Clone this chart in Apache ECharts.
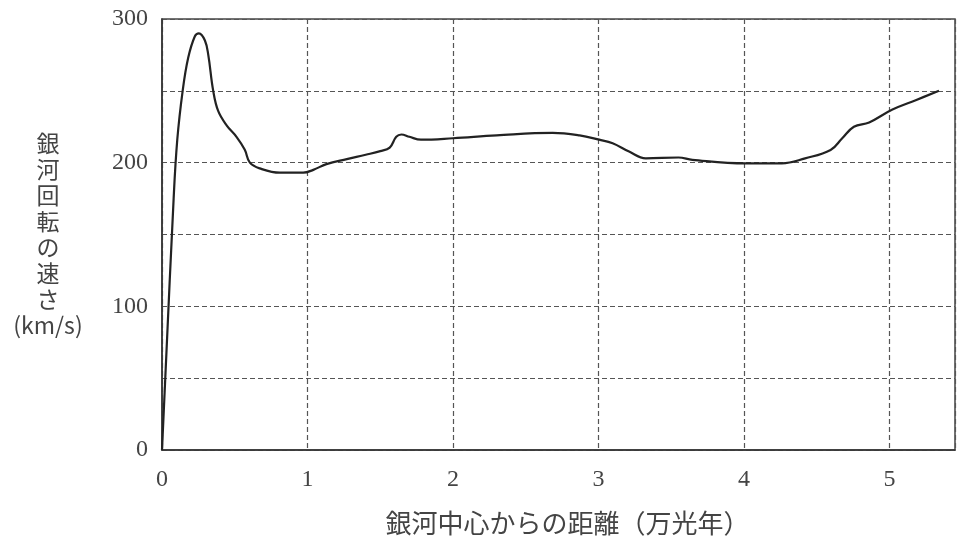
<!DOCTYPE html>
<html><head><meta charset="utf-8">
<script src="https://cdn.jsdelivr.net/npm/echarts@6/dist/echarts.min.js"></script>
<style>html,body{margin:0;padding:0;background:#fff}#c{width:958px;height:541px}</style>
</head><body><div id="c"></div>
<script>
const distance = [0, 0.08, 0.105, 0.142, 0.18, 0.226, 0.254, 0.295, 0.318, 0.352, 0.386, 0.444, 0.512, 0.569, 0.604, 0.672, 0.81, 0.97, 1.04, 1.13, 1.27, 1.40, 1.50, 1.565, 1.61, 1.645, 1.70, 1.78, 2.0, 2.30, 2.685, 2.87, 3.005, 3.097, 3.21, 3.325, 3.55, 3.645, 4.01, 4.26, 4.42, 4.595, 4.675, 4.755, 4.86, 5.02, 5.18, 5.34];
const speed = [0, 175, 216, 250, 273, 288, 290, 285, 275, 250, 236, 226, 218, 209, 200, 196, 193, 193, 195, 199, 202.5, 205.5, 208, 210.5, 218, 219.6, 218, 216, 217, 219, 220.7, 219, 216, 213.5, 207.7, 203, 203.6, 202, 199.5, 199.5, 203, 208.8, 217, 225, 228, 237, 243.5, 250];
const xTicks = [0, 1, 2, 3, 4, 5];
const yTicks = [0, 100, 200, 300];
const xTitle = '銀河中心からの距離（万光年）';
const yTitle = '銀\n河\n回\n転\nの\n速\nさ\n(km/s)';

const chart = echarts.init(document.getElementById('c'));
const fontFam = '"Liberation Serif", "Noto Sans CJK JP", serif';
chart.setOption({
  animation: false,
  grid: {left: 162, top: 19, right: 3, bottom: 86, show: true, borderColor: '#444', borderWidth: 1.5},
  xAxis: {
    type: 'value', min: 0, max: 5.45, interval: 1,
    axisLine: {show: true, lineStyle: {color: '#333', width: 1.5}},
    axisTick: {show: false},
    axisLabel: {margin: 18, color: '#444', fontSize: 24, fontFamily: fontFam,
      formatter: v => xTicks.includes(v) ? String(v) : ''},
    splitLine: {show: true, lineStyle: {color: '#555', type: [5, 3], width: 1.2}},
    name: xTitle, nameLocation: 'middle', nameGap: 60,
    nameTextStyle: {color: '#444', fontSize: 26, padding: [0, 0, 0, 18], fontFamily: '"Noto Sans CJK JP", sans-serif'}
  },
  yAxis: {
    type: 'value', min: 0, max: 300, interval: 50,
    axisLine: {show: true, lineStyle: {color: '#333', width: 1.5}},
    axisTick: {show: false},
    axisLabel: {margin: 14, color: '#444', fontSize: 24, fontFamily: fontFam,
      formatter: v => yTicks.includes(v) ? String(v) : ''},
    splitLine: {show: true, lineStyle: {color: '#555', type: [5, 3], width: 1.2}},
    name: yTitle, nameLocation: 'middle', nameGap: 114, nameRotate: 0,
    nameTextStyle: {color: '#444', fontSize: 23, lineHeight: 26, align: 'center', verticalAlign: 'middle',
      fontFamily: '"Noto Sans CJK JP", sans-serif'}
  },
  series: [{
    type: 'line', data: distance.map((d, i) => [d, speed[i]]),
    smooth: 0.4, showSymbol: false,
    lineStyle: {color: '#222', width: 2.2}
  }]
});
</script></body></html>
